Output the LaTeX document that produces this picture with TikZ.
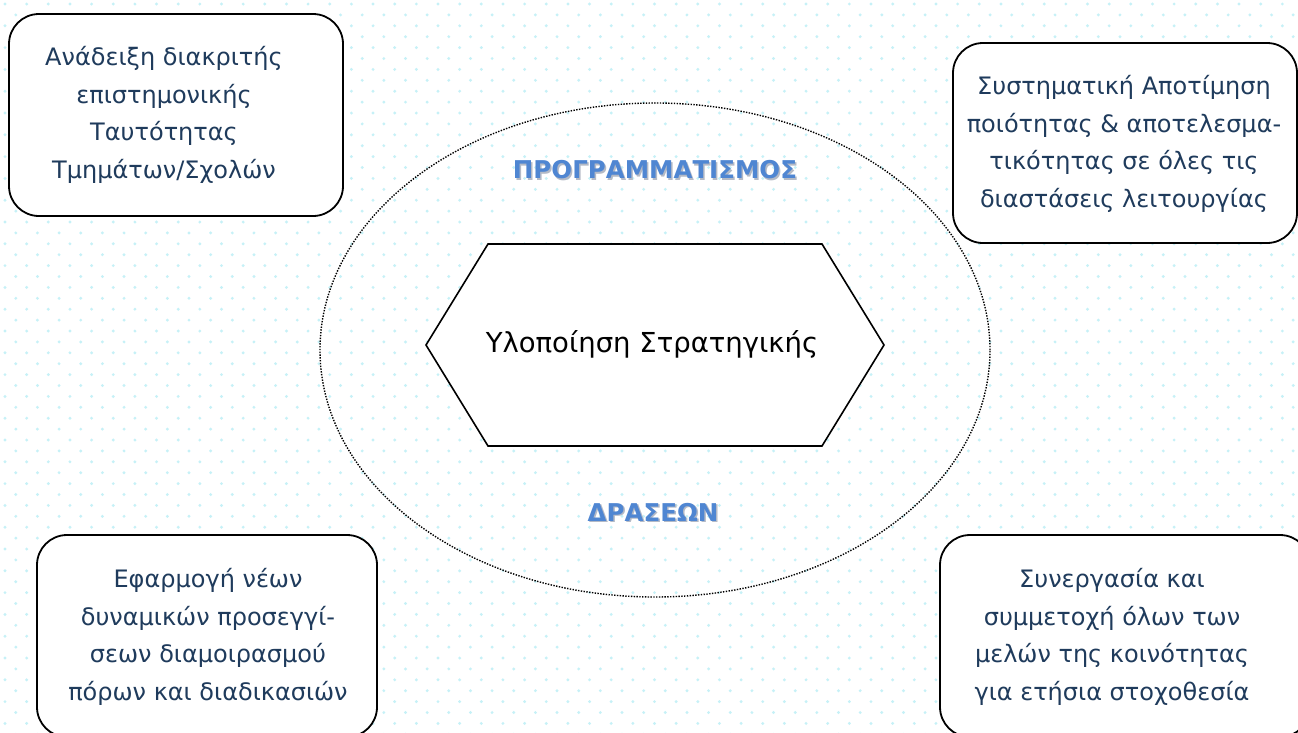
\documentclass[tikz,border=0pt]{standalone}
\usepackage{fontspec}
\setmainfont{DejaVu Sans}
\usetikzlibrary{shapes.geometric}
\definecolor{navy}{HTML}{1F3B5C}
\definecolor{headblue}{HTML}{4F86D2}
\definecolor{shadowgray}{HTML}{B4BAC6}
\definecolor{dotc}{HTML}{C6F1F7}
\tikzset{
  box/.style={draw=black, line width=1.8pt, rounded corners=30pt, fill=white},
  boxtext/.style={text=navy, align=center, font=\fontsize{24}{37.5}\selectfont},
  headtext/.style={text=headblue, font=\bfseries\fontsize{24.5}{29}\selectfont},
  headshadow/.style={text=shadowgray, font=\bfseries\fontsize{24.5}{29}\selectfont},
}
\begin{document}
\begin{tikzpicture}[x=1pt,y=-1pt]
\useasboundingbox (0,0) rectangle (1298,732);
\clip (0,0) rectangle (1298,732);
\fill[white] (0,0) rectangle (1298,732);
% dotted background
\foreach \r in {0,...,67}{
  \foreach \c in {0,...,60}{
    \fill[dotc] ({\c*21.65 + mod(\r,2)*10.8 + 5}, {\r*10.9 + 4}) circle (1.6pt);
  }
}
% ellipse
\node[draw=black, dash pattern=on 1.4pt off 1.4pt, line width=1.4pt, ellipse, minimum width=670pt, minimum height=494pt] (ell) at (655,350) {};
% hexagon
\coordinate (h1) at (426,345);
\coordinate (h2) at (488,244);
\coordinate (h3) at (822,244);
\coordinate (h4) at (884,345);
\coordinate (h5) at (822,446);
\coordinate (h6) at (488,446);
\draw[line width=1.6pt, fill=white, line join=miter] (h1) -- (h2) -- (h3) -- (h4) -- (h5) -- (h6) -- cycle;
\node[font=\fontsize{27.5}{32}\selectfont, text=black] (hex) at (652,344) {Υλοποίηση Στρατηγικής};
% headings
\node[headshadow] (h1s) at (656.5,171.5) {ΠΡΟΓΡΑΜΜΑΤΙΣΜΟΣ};
\node[headtext] (head1) at (655,170) {ΠΡΟΓΡΑΜΜΑΤΙΣΜΟΣ};
\node[headshadow] (h2s) at (654.5,513.5) {ΔΡΑΣΕΩΝ};
\node[headtext] (head2) at (653,512) {ΔΡΑΣΕΩΝ};
% boxes
\node[box, minimum width=334pt, minimum height=202pt] (tl) at (176,115) {};
\node[boxtext] (tlt) at (164,115) {Ανάδειξη διακριτής\\επιστημονικής\\Ταυτότητας\\Τμημάτων/Σχολών};
\node[box, minimum width=344pt, minimum height=200pt] (tr) at (1125,143) {};
\node[boxtext] (trt) at (1124,144) {Συστηματική Αποτίμηση\\ποιότητας \& αποτελεσμα-\\τικότητας σε όλες τις\\διαστάσεις λειτουργίας};
\node[box, minimum width=340pt, minimum height=202pt] (bl) at (207,636) {};
\node[boxtext] (blt) at (208,637) {Εφαρμογή νέων\\δυναμικών προσεγγί-\\σεων διαμοιρασμού\\πόρων και διαδικασιών};
\node[box, minimum width=370pt, minimum height=202pt] (br) at (1125,636) {};
\node[boxtext] (brt) at (1112,637) {Συνεργασία και\\συμμετοχή όλων των\\μελών της κοινότητας\\για ετήσια στοχοθεσία};
\end{tikzpicture}
\end{document}
